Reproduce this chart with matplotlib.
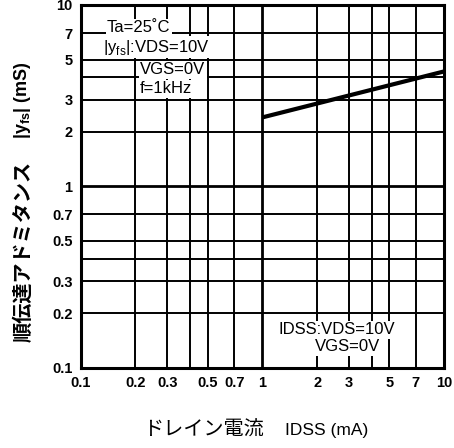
import matplotlib
matplotlib.use("Agg")
import matplotlib.pyplot as plt

plt.rcParams['font.family'] = ['Liberation Sans', 'Noto Sans CJK JP', 'DejaVu Sans']
plt.rcParams['mathtext.fontset'] = 'custom'
plt.rcParams['mathtext.rm'] = 'Liberation Sans'
plt.rcParams['mathtext.bf'] = 'Liberation Sans:bold'

# curve: |yfs| vs IDSS
idss_ma = [1.0, 10.0]
yfs_ms = [2.4, 4.3]

grid_vals = [0.2, 0.3, 0.4, 0.5, 0.7, 1, 2, 3, 4, 5, 7]
x_ticks = [0.1, 0.2, 0.3, 0.5, 0.7, 1, 2, 3, 5, 7, 10]
x_labels = ['0.1', '0.2', '0.3', '0.5', '0.7', '1', '2', '3', '5', '7', '10']
y_ticks = [0.1, 0.2, 0.3, 0.5, 0.7, 1, 2, 3, 5, 7, 10]
y_labels = ['0.1', '0.2', '0.3', '0.5', '0.7', '1', '2', '3', '5', '7', '10']

fig = plt.figure(figsize=(4.54, 4.48), dpi=100)
ax = fig.add_axes([0.178, 0.179, 0.800, 0.810])
ax.set_xscale('log')
ax.set_yscale('log')
ax.set_xlim(0.1, 10)
ax.set_ylim(0.1, 10)

for v in grid_vals:
    lw = 2.0 if v == 1 else 1.4
    ax.axvline(v, color='black', lw=lw, zorder=1)
    ax.axhline(v, color='black', lw=lw, zorder=1)

ax.plot(idss_ma, yfs_ms, color='black', lw=3.0, solid_capstyle='butt', zorder=3)

ax.minorticks_off()
ax.set_xticks(x_ticks)
ax.set_xticklabels(x_labels)
ax.set_yticks(y_ticks)
ax.set_yticklabels(y_labels)
ax.tick_params(length=0, pad=6, labelsize=10.5)
for lab in ax.get_xticklabels() + ax.get_yticklabels():
    lab.set_fontweight('bold')
for s in ax.spines.values():
    s.set_linewidth(2.2)

box = dict(facecolor='white', edgecolor='none', pad=1.0)
tkw = dict(transform=ax.transAxes, fontsize=12, va='center', ha='left', zorder=4, bbox=box)
ax.text(0.072, 0.937, 'Ta=25˚C', **tkw)
ax.text(0.060, 0.884, '|y$_{\\mathregular{fs}}$|:VDS=10V', **tkw)
ax.text(0.163, 0.821, 'VGS=0V', **tkw)
ax.text(0.163, 0.769, 'f=1kHz', **tkw)
ax.text(0.543, 0.105, 'IDSS:VDS=10V', **tkw)
ax.text(0.645, 0.058, 'VGS=0V', **tkw)

# x axis title
fig.text(0.315, 0.04, 'ドレイン電流', ha='left', va='center', fontsize=14.5,
         family=['Noto Sans CJK JP'])
fig.text(0.628, 0.04, 'IDSS (mA)', ha='left', va='center', fontsize=12.5)

# y axis title
fig.text(0.05, 0.237, '順伝達アドミタンス', ha='center', va='bottom', rotation=90,
         fontsize=14.5, fontweight='bold', family=['Noto Sans CJK JP'])
fig.text(0.05, 0.69, '$\\mathbf{|y_{fs}|}$ (mS)', ha='center', va='bottom', rotation=90,
         fontsize=13, fontweight='bold')

fig.savefig('out.png', dpi=100)
